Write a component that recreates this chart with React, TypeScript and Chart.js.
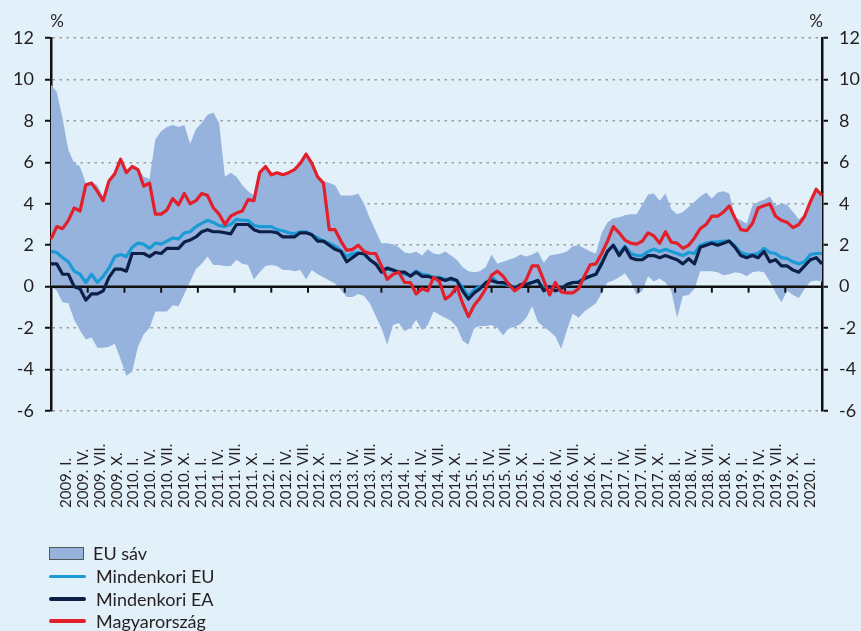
import React, { useEffect, useRef } from "react";
import { Chart, registerables } from "chart.js";

Chart.register(...registerables);

const FONT = "Lato, 'Open Sans', sans-serif";
const BG = "#e2f0f9";
const BAND = "#95b3dd";
const C_EU = "#1b9ad6";
const C_EA = "#0d1f47";
const C_HU = "#e31f2a";
const TEXT = "#231f20";

// monthly categories 2009-01 .. 2020-02
const months: string[] = [];
for (let y = 2009; y <= 2020; y++) {
  for (let m = 1; m <= 12; m++) {
    if (y === 2020 && m > 2) break;
    months.push(`${y}-${String(m).padStart(2, "0")}`);
  }
}

const tickLabels = [
  "2009. I.", "2009. IV.", "2009. VII.", "2009. X.",
  "2010. I.", "2010. IV.", "2010. VII.", "2010. X.",
  "2011. I.", "2011. IV.", "2011. VII.", "2011. X.",
  "2012. I.", "2012. IV.", "2012. VII.", "2012. X.",
  "2013. I.", "2013. IV.", "2013. VII.", "2013. X.",
  "2014. I.", "2014. IV.", "2014. VII.", "2014. X.",
  "2015. I.", "2015. IV.", "2015. VII.", "2015. X.",
  "2016. I.", "2016. IV.", "2016. VII.", "2016. X.",
  "2017. I.", "2017. IV.", "2017. VII.", "2017. X.",
  "2018. I.", "2018. IV.", "2018. VII.", "2018. X.",
  "2019. I.", "2019. IV.", "2019. VII.", "2019. X.",
  "2020. I.",
];

const hungary = [
  2.3, 2.9, 2.8, 3.2, 3.8, 3.65, 4.9, 5.0, 4.6, 4.15, 5.1, 5.45,
  6.15, 5.5, 5.8, 5.65, 4.85, 5.0, 3.5, 3.5, 3.7, 4.25, 3.95, 4.5,
  4.0, 4.15, 4.5, 4.4, 3.8, 3.5, 3.0, 3.4, 3.55, 3.65, 4.2, 4.15,
  5.5, 5.8, 5.4, 5.5, 5.4, 5.5, 5.65, 5.95, 6.4, 5.95, 5.3, 5.0,
  2.75, 2.75, 2.2, 1.75, 1.8, 2.0, 1.7, 1.6, 1.6, 1.0, 0.35, 0.6,
  0.7, 0.2, 0.2, -0.35, -0.1, -0.2, 0.45, 0.25, -0.6, -0.4, 0.0, -0.8,
  -1.45, -0.9, -0.55, -0.1, 0.55, 0.75, 0.5, 0.1, -0.2, 0.0, 0.35, 1.0,
  1.0, 0.3, -0.4, 0.2, -0.25, -0.3, -0.3, -0.1, 0.5, 1.05, 1.1, 1.6,
  2.2, 2.9, 2.6, 2.25, 2.1, 2.05, 2.2, 2.6, 2.45, 2.1, 2.65, 2.15,
  2.1, 1.85, 2.0, 2.35, 2.8, 3.0, 3.4, 3.4, 3.6, 3.9, 3.3, 2.75,
  2.7, 3.05, 3.8, 3.9, 4.0, 3.4, 3.2, 3.1, 2.85, 3.0, 3.4, 4.1,
  4.7, 4.4,
];

const euroArea = [
  1.1, 1.1, 0.6, 0.6, 0.0, -0.1, -0.65, -0.35, -0.35, -0.2, 0.45, 0.85,
  0.85, 0.75, 1.6, 1.6, 1.6, 1.45, 1.65, 1.6, 1.85, 1.85, 1.85, 2.15,
  2.25, 2.4, 2.65, 2.75, 2.65, 2.65, 2.6, 2.55, 3.0, 3.0, 3.0, 2.75,
  2.65, 2.65, 2.65, 2.6, 2.4, 2.4, 2.4, 2.6, 2.6, 2.5, 2.2, 2.2,
  2.0, 1.8, 1.7, 1.2, 1.4, 1.6, 1.6, 1.3, 1.1, 0.7, 0.9, 0.8,
  0.7, 0.7, 0.5, 0.7, 0.5, 0.5, 0.4, 0.4, 0.3, 0.4, 0.3, -0.2,
  -0.6, -0.3, -0.1, 0.2, 0.3, 0.2, 0.2, 0.1, -0.1, 0.1, 0.1, 0.2,
  0.3, -0.2, 0.0, -0.2, -0.1, 0.1, 0.2, 0.2, 0.4, 0.5, 0.6, 1.1,
  1.7, 2.0, 1.5, 1.9, 1.4, 1.3, 1.3, 1.5, 1.5, 1.4, 1.5, 1.4,
  1.3, 1.1, 1.35, 1.1, 1.9, 2.0, 2.1, 2.0, 2.1, 2.2, 1.9, 1.5,
  1.4, 1.5, 1.4, 1.7, 1.2, 1.3, 1.0, 1.0, 0.8, 0.7, 1.0, 1.3,
  1.4, 1.1,
];

const euAll = [
  1.7, 1.65, 1.4, 1.2, 0.75, 0.6, 0.2, 0.6, 0.2, 0.5, 0.9, 1.45,
  1.55, 1.45, 1.9, 2.1, 2.05, 1.85, 2.1, 2.05, 2.2, 2.35, 2.3, 2.6,
  2.65, 2.9, 3.05, 3.2, 3.1, 2.95, 2.9, 3.0, 3.25, 3.2, 3.2, 2.95,
  2.9, 2.9, 2.9, 2.75, 2.7, 2.6, 2.55, 2.65, 2.65, 2.5, 2.35, 2.2,
  2.1, 1.95, 1.75, 1.45, 1.6, 1.65, 1.55, 1.3, 1.1, 0.9, 0.85, 0.8,
  0.7, 0.6, 0.55, 0.75, 0.6, 0.55, 0.45, 0.45, 0.35, 0.35, 0.3, -0.05,
  -0.45, -0.15, 0.0, 0.1, 0.5, 0.2, 0.15, 0.05, -0.05, 0.05, 0.15, 0.2,
  0.3, -0.1, 0.0, -0.2, -0.1, 0.1, 0.2, 0.25, 0.35, 0.5, 0.6, 1.2,
  1.7, 2.0, 1.6, 1.95, 1.6, 1.5, 1.5, 1.7, 1.8, 1.7, 1.8, 1.7,
  1.6, 1.5, 1.65, 1.6, 2.0, 2.1, 2.15, 2.15, 2.2, 2.2, 1.95, 1.65,
  1.55, 1.55, 1.6, 1.85, 1.65, 1.6, 1.4, 1.35, 1.2, 1.1, 1.2, 1.55,
  1.6, 1.6,
];

const bandMax = [
  9.75, 9.4, 8.1, 6.6, 5.95, 5.8, 5.0, 5.05, 4.9, 4.35, 5.15, 5.5,
  6.2, 5.55, 5.85, 5.7, 5.3, 5.2, 7.1, 7.5, 7.7, 7.8, 7.7, 7.8,
  6.9, 7.6, 7.9, 8.3, 8.4, 7.9, 5.3, 5.5, 5.3, 4.9, 4.6, 4.4,
  5.55, 5.85, 5.45, 5.55, 5.45, 5.55, 5.7, 6.0, 6.45, 6.0, 5.35, 5.1,
  5.0, 4.9, 4.4, 4.4, 4.4, 4.5, 4.0, 3.3, 2.7, 2.1, 2.1, 2.05,
  1.9, 1.65, 1.6, 1.7, 1.5, 1.8, 1.6, 1.55, 1.7, 1.5, 1.3, 0.95,
  0.75, 0.7, 0.75, 0.95, 1.55, 1.1, 1.2, 1.3, 1.4, 1.55, 1.45, 1.55,
  1.7, 1.15, 1.5, 1.55, 1.6, 1.7, 1.95, 2.0, 1.85, 1.7, 1.6, 2.6,
  3.1, 3.3, 3.35, 3.45, 3.5, 3.5, 3.95, 4.45, 4.5, 4.15, 4.5, 3.75,
  3.5, 3.6, 3.85, 4.1, 4.35, 4.55, 4.25, 4.55, 4.6, 4.5, 3.35, 3.2,
  3.05, 3.9, 4.1, 4.2, 4.35, 3.9, 4.0, 3.95, 3.6, 3.25, 3.45, 4.15,
  4.75, 4.5,
];

const bandMin = [
  0.05, -0.2, -0.75, -0.8, -1.6, -2.1, -2.55, -2.45, -2.95, -2.95, -2.9, -2.75,
  -3.5, -4.3, -4.1, -2.9, -2.3, -2.0, -1.2, -1.2, -1.2, -0.9, -0.95, -0.35,
  0.25, 0.85, 1.1, 1.45, 1.05, 1.05, 1.0, 1.0, 1.3, 1.1, 1.05, 0.35,
  0.7, 1.0, 1.05, 1.0, 0.8, 0.8, 0.75, 0.8, 0.35, 0.8, 0.6, 0.45,
  0.3, 0.15, -0.15, -0.5, -0.5, -0.35, -0.45, -0.8, -1.4, -2.0, -2.8, -1.85,
  -1.75, -2.15, -2.0, -1.6, -2.1, -1.85, -1.2, -1.35, -1.5, -1.65, -1.95, -2.6,
  -2.8, -2.0, -1.9, -1.9, -1.85, -2.0, -2.35, -2.0, -1.95, -1.8, -1.5, -0.95,
  -1.7, -1.95, -2.15, -2.4, -3.0, -2.1, -1.3, -1.5, -1.2, -1.0, -0.8, -0.3,
  0.2, 0.3, 0.45, 0.65, 0.25, -0.4, -0.2, 0.5, 0.25, 0.4, 0.2, -0.2,
  -1.5, -0.45, -0.4, -0.1, 0.75, 0.75, 0.75, 0.7, 0.55, 0.6, 0.7, 0.65,
  0.5, 0.7, 0.75, 0.7, 0.25, -0.3, -0.75, -0.2, -0.4, -0.55, -0.1, 0.25,
  0.3, 0.25,
];

const Y_MIN = -6;
const Y_MAX = 12;
const Y_STEP = 2;
// calibration of the rotated quarter-label axis relative to the plot
const LABEL_AXIS_MIN = -0.887;
const LABEL_AXIS_MAX = 44.71;
const X_TICK_INTERVALS = 21;

const overlayPlugin = {
  id: "overlay",
  afterDatasetDraw(chart: any, args: any) {
    if (args.index !== 3) return;
    const { ctx, chartArea } = chart;
    const y0 = chart.scales.y.getPixelForValue(0);
    ctx.save();
    ctx.strokeStyle = "#111";
    ctx.lineWidth = 2.5;
    ctx.beginPath();
    ctx.moveTo(chartArea.left, y0);
    ctx.lineTo(chartArea.right, y0);
    ctx.stroke();
    ctx.lineWidth = 2;
    const w = (chartArea.right - chartArea.left) / X_TICK_INTERVALS;
    for (let k = 1; k < X_TICK_INTERVALS; k++) {
      const x = chartArea.left + k * w;
      ctx.beginPath();
      ctx.moveTo(x, y0);
      ctx.lineTo(x, y0 + 6);
      ctx.stroke();
    }
    ctx.restore();
  },
  afterDraw(chart: any) {
    const { ctx, chartArea } = chart;
    const xl = chart.scales.xl;
    const base = chartArea.bottom + 97;
    ctx.save();
    ctx.fillStyle = TEXT;
    ctx.font = `15px ${FONT}`;
    ctx.textAlign = "left";
    ctx.textBaseline = "middle";
    tickLabels.forEach((t, i) => {
      const x = xl.getPixelForValue(i);
      ctx.save();
      ctx.translate(x, base);
      ctx.rotate(-Math.PI / 2);
      ctx.fillText(t, 0, 0);
      ctx.restore();
    });
    ctx.font = `17px ${FONT}`;
    ctx.textAlign = "center";
    ctx.fillText("%", chartArea.left + 6, 22);
    ctx.fillText("%", chartArea.right - 6, 22);
    ctx.restore();
  },
};

function yAxis(position: "left" | "right", width: number, onArea: boolean) {
  return {
    position,
    min: Y_MIN,
    max: Y_MAX,
    afterFit: (s: any) => {
      s.width = width;
    },
    ticks: {
      stepSize: Y_STEP,
      color: TEXT,
      padding: 11,
      font: { family: FONT, size: 18 },
    },
    grid: {
      drawOnChartArea: onArea,
      color: "#9c9c9c",
      lineWidth: 1.5,
      tickColor: "#111",
      tickWidth: 2,
      tickLength: 6,
      tickBorderDash: [],
    },
    border: { display: true, color: "#111", width: 2.5, dash: [2.5, 4.5] },
  };
}

export default function App() {
  const ref = useRef<HTMLCanvasElement | null>(null);

  useEffect(() => {
    document.body.style.margin = "0";
    document.body.style.background = BG;
    const canvas = ref.current;
    if (!canvas) return;
    const line = (label: string, data: number[], color: string, order: number) => ({
      label,
      data,
      borderColor: color,
      borderWidth: 3.2,
      pointRadius: 0,
      fill: false,
      tension: 0,
      order,
      borderJoinStyle: "round" as const,
    });
    const chart = new Chart(canvas, {
      type: "line",
      data: {
        labels: months,
        datasets: [
          line("Magyarország", hungary, C_HU, 1),
          line("Mindenkori EA", euroArea, C_EA, 2),
          line("Mindenkori EU", euAll, C_EU, 3),
          {
            label: "EU sáv",
            data: bandMax,
            borderColor: "rgba(0,0,0,0)",
            borderWidth: 1,
            backgroundColor: BAND,
            pointRadius: 0,
            fill: "+1",
            tension: 0,
            order: 4,
          },
          {
            label: "EU sáv min",
            data: bandMin,
            borderColor: "rgba(0,0,0,0)",
            borderWidth: 1,
            pointRadius: 0,
            fill: false,
            tension: 0,
            order: 5,
          },
        ],
      },
      options: {
        responsive: false,
        animation: false,
        devicePixelRatio: 1,
        layout: { padding: { top: 38, bottom: 220, left: 0, right: 0 } },
        plugins: {
          legend: { display: false },
          tooltip: { enabled: false },
        },
        scales: {
          x: { type: "category", display: false },
          xl: {
            type: "linear",
            display: false,
            min: LABEL_AXIS_MIN,
            max: LABEL_AXIS_MAX,
          },
          y: yAxis("left", 51, true),
          y2: yAxis("right", 39, false),
        },
      } as any,
      plugins: [overlayPlugin],
    });
    return () => chart.destroy();
  }, []);

  const legendRow = (top: number, symbol: React.ReactNode, text: string, textLeft: number) => (
    <div style={{ position: "absolute", left: 0, top, height: 22, width: 300 }}>
      {symbol}
      <span
        style={{
          position: "absolute",
          left: textLeft,
          top: 0,
          lineHeight: "22px",
          fontFamily: FONT,
          fontSize: 18,
          color: TEXT,
          whiteSpace: "nowrap",
        }}
      >
        {text}
      </span>
    </div>
  );
  const lineSym = (color: string) => (
    <div
      style={{
        position: "absolute",
        left: 49,
        top: 9.5,
        width: 37,
        height: 3.5,
        borderRadius: 2,
        background: color,
      }}
    />
  );

  return (
    <div style={{ position: "relative", width: 861, height: 631, background: BG, overflow: "hidden" }}>
      <canvas ref={ref} width={861} height={631} style={{ position: "absolute", left: 0, top: 0 }} />
      {legendRow(
        542,
        <div
          style={{
            position: "absolute",
            left: 49,
            top: 5,
            width: 33,
            height: 11,
            background: BAND,
            border: "1px solid #555",
          }}
        />,
        "EU sáv",
        93
      )}
      {legendRow(565, lineSym(C_EU), "Mindenkori EU", 96)}
      {legendRow(587.5, lineSym(C_EA), "Mindenkori EA", 96)}
      {legendRow(609.5, lineSym(C_HU), "Magyarország", 96)}
    </div>
  );
}
